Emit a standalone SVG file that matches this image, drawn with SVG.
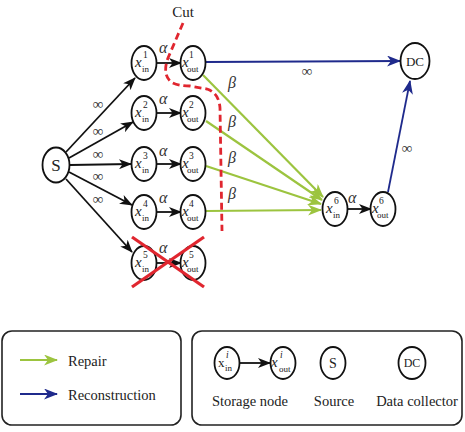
<svg xmlns="http://www.w3.org/2000/svg" width="465" height="432" viewBox="0 0 465 432">
<style>
.nd{fill:#fff;stroke:#111;stroke-width:1.8}
.t{font-family:"Liberation Serif","Times New Roman",serif;fill:#222}
.xv{font-family:"Liberation Serif",serif;font-style:italic;font-size:15px;fill:#222}
.sp{font-family:"Liberation Serif",serif;font-size:9.5px;fill:#222}
.sb{font-family:"Liberation Serif",serif;font-size:9px;fill:#222}
.gr{font-family:"Liberation Serif",serif;font-style:italic;font-size:16px;fill:#333}
.inf{font-family:"Liberation Serif",serif;font-size:15px;fill:#333}
.bk{stroke:#111;stroke-width:1.8;fill:none}
.gn{stroke:#9cc43f;stroke-width:2.2;fill:none}
.bl{stroke:#1f2a8c;stroke-width:1.8;fill:none}
</style>
<defs>
<marker id="ab" markerUnits="userSpaceOnUse" markerWidth="13" markerHeight="10" refX="12" refY="5" orient="auto"><path d="M0,0 L13,5 L0,10 L3.5,5 z" fill="#111"/></marker>
<marker id="ag" markerUnits="userSpaceOnUse" markerWidth="14" markerHeight="11" refX="13" refY="5.5" orient="auto"><path d="M0,0 L14,5.5 L0,11 L4,5.5 z" fill="#9cc43f"/></marker>
<marker id="an" markerUnits="userSpaceOnUse" markerWidth="14" markerHeight="11" refX="13" refY="5.5" orient="auto"><path d="M0,0 L14,5.5 L0,11 L4,5.5 z" fill="#1f2a8c"/></marker>
</defs>

<g id="connectors">
<line class="bk" x1="66" y1="152" x2="135" y2="78" marker-end="url(#ab)"/>
<line class="bk" x1="69" y1="158" x2="133" y2="122" marker-end="url(#ab)"/>
<line class="bk" x1="70" y1="165" x2="131" y2="164" marker-end="url(#ab)"/>
<line class="bk" x1="69" y1="172" x2="132" y2="205" marker-end="url(#ab)"/>
<line class="bk" x1="66" y1="179" x2="132" y2="252" marker-end="url(#ab)"/>
<line class="bk" x1="157" y1="63" x2="181" y2="63" marker-end="url(#ab)"/>
<line class="bk" x1="157" y1="113" x2="181" y2="113" marker-end="url(#ab)"/>
<line class="bk" x1="157" y1="164" x2="181" y2="164" marker-end="url(#ab)"/>
<line class="bk" x1="157" y1="212" x2="181" y2="212" marker-end="url(#ab)"/>
<line class="bk" x1="156" y1="263" x2="181" y2="263" marker-end="url(#ab)"/>
<line class="bk" x1="348" y1="209" x2="371" y2="209" marker-end="url(#ab)"/>
<line class="gn" x1="203" y1="75" x2="323" y2="197" marker-end="url(#ag)"/>
<line class="gn" x1="206" y1="121" x2="322" y2="200" marker-end="url(#ag)"/>
<line class="gn" x1="206" y1="166" x2="321" y2="204" marker-end="url(#ag)"/>
<line class="gn" x1="206" y1="211" x2="321" y2="210" marker-end="url(#ag)"/>
<line class="bl" x1="206" y1="62" x2="400" y2="61" marker-end="url(#an)"/>
<line class="bl" x1="388" y1="192" x2="410" y2="81" marker-end="url(#an)"/>
<text class="gr" x="159" y="53">α</text>
<text class="gr" x="159" y="104">α</text>
<text class="gr" x="159" y="156">α</text>
<text class="gr" x="159" y="203">α</text>
<text class="gr" x="159" y="253">α</text>
<text class="gr" x="348" y="203">α</text>
<text class="gr" x="228" y="88">β</text>
<text class="gr" x="228" y="127">β</text>
<text class="gr" x="228" y="163">β</text>
<text class="gr" x="228" y="199">β</text>
<text class="inf" x="98" y="109" text-anchor="middle">∞</text>
<text class="inf" x="98" y="136" text-anchor="middle">∞</text>
<text class="inf" x="98" y="159" text-anchor="middle">∞</text>
<text class="inf" x="98" y="181" text-anchor="middle">∞</text>
<text class="inf" x="98" y="204" text-anchor="middle">∞</text>
<text class="inf" x="307" y="76" text-anchor="middle">∞</text>
<text class="inf" x="407" y="153" text-anchor="middle">∞</text>
</g>

<g id="S"><ellipse class="nd" cx="56" cy="165" rx="13.5" ry="17.5"/><text class="t" x="56" y="171" font-size="17" text-anchor="middle">S</text></g>
<g id="DC"><ellipse class="nd" cx="415" cy="61" rx="14.5" ry="18"/><text class="t" x="415" y="66" font-size="13" text-anchor="middle">DC</text></g>

<g id="xin1"><ellipse class="nd" cx="144" cy="63" rx="12.5" ry="17"/><text class="xv" x="135" y="67">x</text><text class="sp" x="143" y="58">1</text><text class="sb" x="142" y="72">in</text></g>
<g id="xout1"><ellipse class="nd" cx="193" cy="63" rx="12.5" ry="17"/><text class="xv" x="182" y="67">x</text><text class="sp" x="189" y="58">1</text><text class="sb" x="187" y="72">out</text></g>
<g id="xin2"><ellipse class="nd" cx="144" cy="113" rx="12.5" ry="17"/><text class="xv" x="135" y="117">x</text><text class="sp" x="143" y="108">2</text><text class="sb" x="142" y="122">in</text></g>
<g id="xout2"><ellipse class="nd" cx="193" cy="113" rx="12.5" ry="17"/><text class="xv" x="182" y="117">x</text><text class="sp" x="189" y="108">2</text><text class="sb" x="187" y="122">out</text></g>
<g id="xin3"><ellipse class="nd" cx="144" cy="164" rx="12.5" ry="17"/><text class="xv" x="135" y="168">x</text><text class="sp" x="143" y="159">3</text><text class="sb" x="142" y="173">in</text></g>
<g id="xout3"><ellipse class="nd" cx="193" cy="164" rx="12.5" ry="17"/><text class="xv" x="182" y="168">x</text><text class="sp" x="189" y="159">3</text><text class="sb" x="187" y="173">out</text></g>
<g id="xin4"><ellipse class="nd" cx="144" cy="212" rx="12.5" ry="17"/><text class="xv" x="135" y="216">x</text><text class="sp" x="143" y="207">4</text><text class="sb" x="142" y="221">in</text></g>
<g id="xout4"><ellipse class="nd" cx="193" cy="212" rx="12.5" ry="17"/><text class="xv" x="182" y="216">x</text><text class="sp" x="189" y="207">4</text><text class="sb" x="187" y="221">out</text></g>
<g id="xin5"><ellipse class="nd" cx="144" cy="263" rx="12.5" ry="17"/><text class="xv" x="135" y="267">x</text><text class="sp" x="143" y="258">5</text><text class="sb" x="142" y="272">in</text></g>
<g id="xout5"><ellipse class="nd" cx="193" cy="263" rx="12.5" ry="17"/><text class="xv" x="182" y="267">x</text><text class="sp" x="189" y="258">5</text><text class="sb" x="187" y="272">out</text></g>
<g id="xin6"><ellipse class="nd" cx="335" cy="209" rx="12.5" ry="17"/><text class="xv" x="326" y="213">x</text><text class="sp" x="334" y="204">6</text><text class="sb" x="333" y="218">in</text></g>
<g id="xout6"><ellipse class="nd" cx="383" cy="209" rx="12.5" ry="17"/><text class="xv" x="372" y="213">x</text><text class="sp" x="379" y="204">6</text><text class="sb" x="377" y="218">out</text></g>

<g id="cut">
<path d="M183,23 L168,58 Q162,74 171,82 Q178,86 190,86 L207,89 Q219,93 220,108 L222,231" fill="none" stroke="#e0262f" stroke-width="2.8" stroke-dasharray="7,4"/>
<text class="t" x="183" y="17" font-size="15" text-anchor="middle">Cut</text>
</g>
<g id="failed">
<line x1="132" y1="237" x2="204" y2="287" stroke="#e0262f" stroke-width="3.2"/>
<line x1="204" y1="237" x2="132" y2="287" stroke="#e0262f" stroke-width="3.2"/>
</g>

<g id="legend-edges">
<rect x="2" y="331" width="179" height="94" rx="10" fill="none" stroke="#222" stroke-width="1.6"/>
<line class="gn" x1="20" y1="360" x2="57" y2="360" marker-end="url(#ag)"/>
<text class="t" x="68" y="366" font-size="14.5">Repair</text>
<line class="bl" x1="20" y1="394" x2="57" y2="394" marker-end="url(#an)"/>
<text class="t" x="68" y="400" font-size="14.5">Reconstruction</text>
</g>
<g id="legend-nodes">
<rect x="192" y="331" width="270" height="94" rx="10" fill="none" stroke="#222" stroke-width="1.6"/>
<ellipse class="nd" cx="227" cy="363" rx="12.5" ry="16"/>
<text class="t" x="218" y="367" font-size="13">x</text><text class="sp" x="226" y="358" font-style="italic">i</text><text class="sb" x="225" y="371">in</text>
<line class="bk" x1="240" y1="363" x2="270" y2="363" marker-end="url(#ab)"/>
<ellipse class="nd" cx="283" cy="363" rx="12.5" ry="16"/>
<text class="xv" x="271" y="367">x</text><text class="sp" x="280" y="358" font-style="italic">i</text><text class="sb" x="279" y="372">out</text>
<ellipse class="nd" cx="333" cy="363" rx="12.5" ry="16"/>
<text class="t" x="333" y="368" font-size="14" text-anchor="middle">S</text>
<ellipse class="nd" cx="412" cy="363" rx="13.5" ry="16"/>
<text class="t" x="412" y="367" font-size="12" text-anchor="middle">DC</text>
<text class="t" x="250" y="406" font-size="14.5" text-anchor="middle">Storage node</text>
<text class="t" x="334" y="406" font-size="14.5" text-anchor="middle">Source</text>
<text class="t" x="417" y="406" font-size="14.5" text-anchor="middle">Data collector</text>
</g>
</svg>
